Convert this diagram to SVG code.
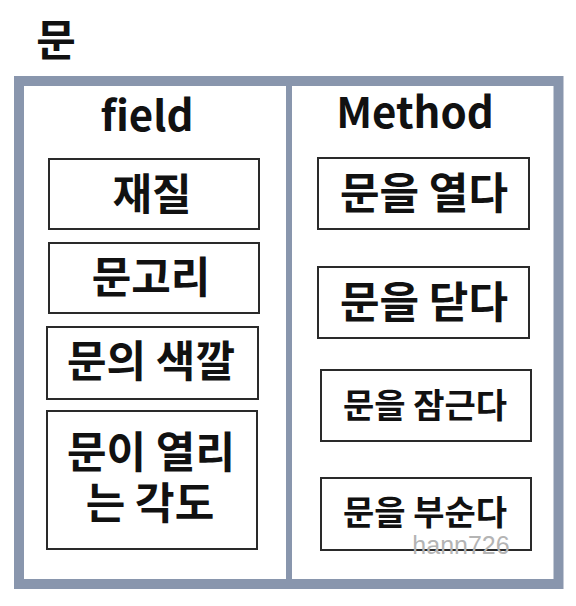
<svg xmlns="http://www.w3.org/2000/svg" width="576" height="606" viewBox="0 0 576 606">
<style>
.t{font-family:"Noto Sans CJK KR","Noto Sans",sans-serif;font-weight:700;fill:#111;text-anchor:middle}
.big{font-size:43px}
.sm{font-size:34px}
.hd{font-size:42px;font-weight:700}
.box{fill:#fff;stroke:#2a2a2a;stroke-width:2}
.frame{fill:#fff;stroke:#8996ad;stroke-width:10}
</style>
<rect width="576" height="606" fill="#fff"/>
<g id="title"><text class="t" x="56" y="56" style="font-size:43px">문</text></g>
<g id="frame">
<rect class="frame" x="19" y="81" width="539.5" height="503"/>
<line x1="289" y1="84" x2="289" y2="581" stroke="#8996ad" stroke-width="6"/>
</g>
<g id="field">
<text class="t hd" x="147" y="131">field</text>
<g id="f1"><rect class="box" x="49" y="159" width="210" height="70"/><text class="t big" x="152" y="210">재질</text></g>
<g id="f2"><rect class="box" x="49" y="243" width="210" height="70"/><text class="t big" x="151" y="293">문고리</text></g>
<g id="f3"><rect class="box" x="47" y="327" width="211" height="72"/><text class="t big" x="151" y="377">문의 색깔</text></g>
<g id="f4"><rect class="box" x="47" y="411" width="210" height="138"/><text class="t big"><tspan x="151" y="468">문이 열리</tspan><tspan x="150" y="519">는 각도</tspan></text></g>
</g>
<g id="method">
<text class="t hd" x="415" y="128">Method</text>
<g id="m1"><rect class="box" x="318" y="158" width="211" height="71"/><text class="t big" x="424" y="209">문을 열다</text></g>
<g id="m2"><rect class="box" x="318" y="267" width="211" height="71"/><text class="t big" x="424" y="318">문을 닫다</text></g>
<g id="m3"><rect class="box" x="321" y="370" width="210" height="71"/><text class="t sm" x="425" y="418">문을 잠근다</text></g>
<g id="m4"><rect class="box" x="321" y="478" width="210" height="72"/><text class="t sm" x="425" y="525">문을 부순다</text></g>
</g>
<text x="461" y="554" style="font-family:'Liberation Sans',sans-serif;font-size:25px;fill:#b4b4b4;text-anchor:middle">hann726</text>
</svg>
